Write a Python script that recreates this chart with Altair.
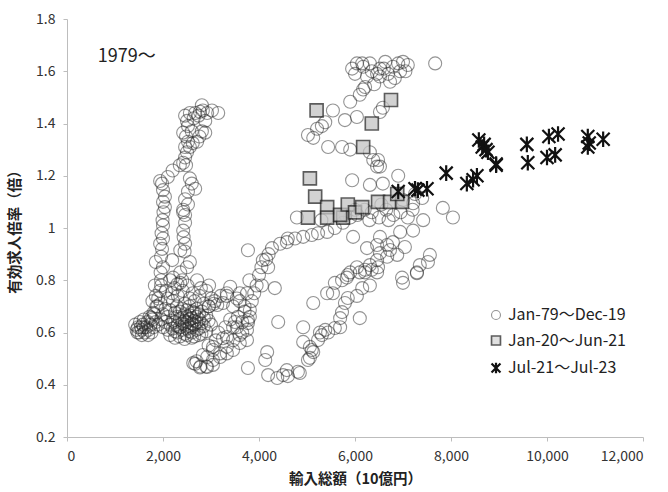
import altair as alt
import pandas as pd

# Series labels (legend order)
SERIES = ["Jan-79～Dec-19", "Jan-20～Jun-21", "Jul-21～Jul-23"]

# Monthly points: (imports, 10億円) / (jobs-to-applicants ratio)
# 1979-1985 and 1993-1995: the dense low-import cluster
cluster_79_95 = [
    (2150, 0.80), (2360, 0.79), (2710, 0.80),
    (1960, 0.78), (2240, 0.77), (2510, 0.78), (2790, 0.77), (2960, 0.78),
    (2060, 0.76), (2190, 0.75), (2410, 0.76), (2620, 0.75), (2900, 0.76),
    (1850, 0.74), (2100, 0.73), (2310, 0.74), (2560, 0.73), (2760, 0.74), (3010, 0.73),
    (1780, 0.72), (1950, 0.71), (2210, 0.72), (2450, 0.71), (2660, 0.72), (2850, 0.71), (3060, 0.71),
    (1880, 0.70), (2050, 0.69), (2290, 0.70), (2400, 0.69), (2550, 0.70), (2700, 0.69), (2950, 0.70),
    (2150, 0.685), (2350, 0.68), (2500, 0.685), (2610, 0.68), (2810, 0.68),
    (1800, 0.675), (2000, 0.67), (2250, 0.675), (2450, 0.67), (2560, 0.665), (2650, 0.675), (2750, 0.67), (2900, 0.665),
    (2100, 0.66), (2300, 0.66), (2400, 0.655), (2500, 0.66), (2600, 0.655), (2700, 0.66), (2850, 0.655),
    (1750, 0.655), (1960, 0.65), (2200, 0.645), (2350, 0.65), (2450, 0.645), (2550, 0.65), (2650, 0.645), (2750, 0.65), (2950, 0.645),
    (2050, 0.64), (2250, 0.64), (2400, 0.635), (2500, 0.64), (2600, 0.635), (2700, 0.64), (2800, 0.635),
    (1900, 0.63), (2150, 0.63), (2300, 0.625), (2450, 0.63), (2550, 0.625), (2650, 0.63), (2850, 0.625), (3000, 0.63),
    (2000, 0.62), (2200, 0.615), (2350, 0.62), (2500, 0.615), (2600, 0.62), (2750, 0.615),
    (2100, 0.61), (2250, 0.605), (2400, 0.61), (2550, 0.605), (2700, 0.61), (2900, 0.605),
    (2300, 0.60), (2450, 0.595), (2600, 0.60), (2800, 0.595),
    (2150, 0.59), (2350, 0.585), (2500, 0.59), (2650, 0.585), (2750, 0.59),
    (2250, 0.58), (2450, 0.575), (2600, 0.58),
]

# 1986-1987: strong yen, imports at their lowest
left_86_87 = [
    (1420, 0.63), (1450, 0.61), (1480, 0.62), (1500, 0.60), (1520, 0.64), (1540, 0.62),
    (1560, 0.61), (1580, 0.63), (1600, 0.65), (1620, 0.60), (1650, 0.62), (1680, 0.64),
    (1700, 0.61), (1720, 0.66), (1740, 0.63), (1760, 0.60), (1780, 0.65), (1800, 0.62),
    (1820, 0.67), (1850, 0.64), (1470, 0.60), (1560, 0.59), (1690, 0.59), (1600, 0.62),
]

# 1987-1991: bubble-era climb
rise_87_91 = [
    (1860, 0.70), (1900, 0.73), (1940, 0.76), (1830, 0.78), (1960, 0.80), (1950, 0.83),
    (1850, 0.87), (2000, 0.85), (1960, 0.89), (1940, 0.94), (1980, 0.92), (2000, 0.96),
    (1970, 0.98), (2000, 1.01), (1990, 1.03), (2010, 1.06), (2040, 1.08), (2000, 1.10),
    (2040, 1.12), (2000, 1.145), (1980, 1.17), (1940, 1.18), (2100, 1.195), (2200, 1.22),
    (2350, 1.24), (2420, 1.25), (2460, 1.27), (2500, 1.29), (2460, 1.31), (2560, 1.31),
    (2520, 1.33), (2420, 1.365), (2480, 1.35), (2520, 1.39), (2500, 1.41), (2460, 1.43),
    (2560, 1.44), (2670, 1.44), (2770, 1.445), (2830, 1.45), (2920, 1.44), (3020, 1.45),
    (3150, 1.44), (2810, 1.47), (2640, 1.42), (2740, 1.43),
]

# 1991-1993: post-bubble fall
fall_91_93 = [
    (2880, 1.41), (2810, 1.37), (2880, 1.365), (2710, 1.33), (2620, 1.325), (2760, 1.35),
    (2560, 1.19), (2670, 1.15), (2520, 1.14), (2460, 1.11), (2520, 1.09), (2420, 1.07),
    (2460, 1.05), (2420, 1.06), (2460, 1.02), (2420, 0.99), (2430, 0.965), (2460, 0.94),
    (2360, 0.915), (2450, 0.91), (2190, 0.877), (2500, 0.85), (2360, 0.83), (2210, 0.81),
    (2400, 0.80), (2300, 0.785), (2560, 0.87), (2600, 1.17), (2480, 1.24), (2600, 1.37),
]

# 1996-2003: loop through the late-1990s slump
loop_96_03 = [
    (2960, 0.70), (3080, 0.72), (3200, 0.74), (3330, 0.75), (3400, 0.775), (3540, 0.73),
    (3600, 0.75), (3750, 0.75), (3330, 0.74), (3250, 0.713), (3460, 0.70), (3130, 0.705),
    (3600, 0.72), (3700, 0.70), (3810, 0.686), (3770, 0.648), (3750, 0.61), (3650, 0.60),
    (3540, 0.62), (3460, 0.62), (3460, 0.57), (3330, 0.583), (3330, 0.545), (3250, 0.578),
    (3190, 0.52), (3040, 0.533), (3040, 0.545), (2920, 0.506), (2830, 0.514), (3040, 0.495),
    (3040, 0.476), (2920, 0.468), (2770, 0.466), (2670, 0.48), (2630, 0.483), (2780, 0.47),
    (2900, 0.47), (2700, 0.49), (3190, 0.506), (3330, 0.52), (3460, 0.533), (3600, 0.56),
    (3750, 0.571), (3600, 0.59), (3770, 0.636), (3810, 0.66), (3700, 0.68), (3560, 0.66),
    (3400, 0.65), (3500, 0.64), (3650, 0.64), (3300, 0.62), (3150, 0.60), (3100, 0.57),
    (2950, 0.55), (3770, 0.464),
]

# 2004-2007: recovery
trail_04_07 = [
    (3850, 0.72), (3900, 0.75), (3800, 0.80), (3950, 0.78), (4060, 0.78), (4000, 0.82),
    (4050, 0.85), (3770, 0.915), (4080, 0.877), (4190, 0.85), (4150, 0.88), (4270, 0.923),
    (4200, 0.90), (4440, 0.94), (4580, 0.946), (4750, 0.96), (4920, 0.966), (5100, 0.973),
    (5230, 0.98), (5420, 0.985), (5580, 1.00), (5750, 1.02), (5960, 0.966), (4600, 0.96),
    (4790, 1.04), (5300, 1.03), (5900, 1.04), (6050, 1.05), (6200, 1.07), (6350, 1.06),
    (6500, 1.04), (6650, 1.07), (6800, 1.05), (6950, 1.06), (7100, 1.04), (6000, 1.07),
    (6300, 1.03), (5800, 1.05), (6700, 1.03), (7200, 1.07), (6550, 1.09), (7000, 1.107),
    (7210, 1.095), (7250, 1.13), (7400, 1.115),
]

# 2008-2009: financial crisis
fall_08_09 = [
    (7420, 1.03), (7830, 1.077), (8040, 1.04), (7210, 0.99), (7560, 0.897), (7520, 0.87),
    (7350, 0.858), (7290, 0.83), (7000, 0.79), (7040, 0.927), (6880, 0.897), (6730, 0.916),
    (6790, 0.946), (6520, 0.966), (6460, 0.935), (6250, 0.923), (6670, 0.89), (6480, 0.85),
    (6350, 0.84), (6210, 0.83), (6460, 0.877), (6310, 0.858), (6100, 0.655), (5690, 0.62),
    (4850, 0.445), (4600, 0.433), (4500, 0.437), (4380, 0.426), (4190, 0.437), (4810, 0.45),
    (4580, 0.456), (5020, 0.495), (4170, 0.525), (4130, 0.495), (4400, 0.64), (4330, 0.77),
]

# 2010-2013: gradual recovery
rise_10_13 = [
    (4920, 0.62), (4920, 0.564), (5060, 0.545), (5060, 0.503), (5130, 0.525), (5100, 0.533),
    (5230, 0.571), (5310, 0.59), (5270, 0.60), (5440, 0.60), (5380, 0.61), (5580, 0.617),
    (5690, 0.655), (5730, 0.678), (5790, 0.713), (5850, 0.732), (6040, 0.74), (6150, 0.77),
    (6310, 0.78), (5130, 0.713), (5420, 0.75), (5540, 0.75), (5580, 0.79), (5730, 0.80),
    (5830, 0.81), (5850, 0.82), (5900, 0.83), (6040, 0.85), (6100, 0.83), (6210, 0.84),
    (6460, 0.83), (6520, 0.904), (6670, 0.935), (6940, 0.985), (7290, 0.827), (6980, 0.81),
]

# 2014-2019: tight labour market
upper_14_19 = [
    (5940, 1.183), (6310, 1.165), (6580, 1.17), (6900, 1.20), (6460, 1.235), (6480, 1.26),
    (6380, 1.26), (6310, 1.29), (6520, 1.235), (5900, 1.30), (5730, 1.31), (5440, 1.31),
    (5020, 1.356), (5130, 1.345), (5210, 1.38), (5310, 1.39), (5380, 1.405), (5540, 1.45),
    (5790, 1.413), (6040, 1.425), (5900, 1.483), (6100, 1.51), (6170, 1.53), (6210, 1.54),
    (6520, 1.444), (6580, 1.46), (6520, 1.58), (6730, 1.56), (6830, 1.574), (6940, 1.60),
    (5940, 1.61), (6040, 1.63), (6170, 1.617), (6310, 1.63), (6350, 1.60), (6460, 1.59),
    (6520, 1.61), (6630, 1.636), (6690, 1.59), (6790, 1.617), (6900, 1.63), (7000, 1.636),
    (7100, 1.624), (7670, 1.63), (6000, 1.59), (6250, 1.58), (6400, 1.55), (6600, 1.61),
    (7050, 1.60), (6150, 1.63),
]

# Jan-2020 to Jun-2021
covid_20_21 = [
    (6750, 1.49), (5200, 1.45), (6350, 1.40), (6170, 1.31), (5060, 1.19), (5170, 1.12),
    (5420, 1.08), (5020, 1.04), (5420, 1.04), (5750, 1.04), (5690, 1.05), (5850, 1.09),
    (6000, 1.06), (6150, 1.08), (6480, 1.10), (6730, 1.10), (6980, 1.10), (6880, 1.13),
]

# Jul-2021 to Jul-2023
recent_21_23 = [
    (6900, 1.14), (7250, 1.15), (7310, 1.145), (7500, 1.15), (7900, 1.21), (8330, 1.17),
    (8460, 1.185), (8540, 1.20), (8580, 1.337), (8690, 1.32), (8650, 1.31), (8730, 1.30),
    (8770, 1.29), (8940, 1.24), (8940, 1.245), (9580, 1.32), (9600, 1.25), (10000, 1.27),
    (10040, 1.35), (10170, 1.28), (10230, 1.36), (10850, 1.35), (10880, 1.325), (10850, 1.31),
    (11170, 1.34),
]

X_TICKS = [0, 2000, 4000, 6000, 8000, 10000, 12000]
Y_TICKS = [0.2, 0.4, 0.6, 0.8, 1.0, 1.2, 1.4, 1.6, 1.8]

groups = [
    (SERIES[0], cluster_79_95 + left_86_87 + rise_87_91 + fall_91_93 + loop_96_03
     + trail_04_07 + fall_08_09 + rise_10_13 + upper_14_19),
    (SERIES[1], covid_20_21),
    (SERIES[2], recent_21_23),
]
rows = []
for name, pts in groups:
    for x, y in pts:
        rows.append({"imports": x, "ratio": y, "period": name})
df = pd.DataFrame(rows)

FONT = "Noto Sans CJK JP"
ASTERISK = "M-1,-1L1,1M-1,1L1,-1M0,-1.2L0,1.2"

x_enc = alt.X(
    "imports:Q",
    scale=alt.Scale(domain=[0, 12000], nice=False),
    axis=alt.Axis(values=X_TICKS, format=",d", title="輸入総額（10億円）",
                  titleY=35, titleBaseline="top"),
)
y_enc = alt.Y(
    "ratio:Q",
    scale=alt.Scale(domain=[0.2, 1.8], nice=False, zero=False),
    axis=alt.Axis(values=Y_TICKS, format=".1~f", title="有効求人倍率（倍）",
                  titleX=-45, titleY=209),
)

points = alt.Chart(df).mark_point(size=169).encode(
    x=x_enc,
    y=y_enc,
    shape=alt.Shape("period:N", scale=alt.Scale(domain=SERIES, range=["circle", "square", ASTERISK]),
                    legend=alt.Legend(title=None)),
    fill=alt.Fill("period:N", scale=alt.Scale(domain=SERIES, range=["transparent", "#c4c4c4", "transparent"]),
                  legend=alt.Legend(title=None)),
    stroke=alt.Stroke("period:N", scale=alt.Scale(domain=SERIES, range=["#2a2a2a", "#262626", "#111111"]),
                      legend=alt.Legend(title=None)),
    strokeWidth=alt.StrokeWidth("period:N", scale=alt.Scale(domain=SERIES, range=[1.1, 2.2, 2.4]),
                                legend=alt.Legend(title=None)),
    opacity=alt.Opacity("period:N", scale=alt.Scale(domain=SERIES, range=[0.5, 1, 1]),
                        legend=alt.Legend(title=None)),
)

note = alt.Chart(pd.DataFrame({"t": ["1979～"]})).mark_text(
    align="left", baseline="middle", fontSize=18, font=FONT, color="#222222"
).encode(x=alt.datum(640), y=alt.datum(1.655), text="t:N")

chart = (
    alt.layer(points, note)
    .properties(
        width=576, height=418,
        autosize=alt.AutoSizeParams(type="none"),
        padding={"left": 67, "top": 19, "right": 25, "bottom": 55},
        background="white",
    )
    .configure_view(strokeWidth=0)
    .configure_axis(
        grid=False, domainColor="#bdbdbd", tickColor="#bdbdbd", tickSize=4,
        labelFont=FONT, labelFontSize=14, labelColor="#333333", labelPadding=8,
        titleFont=FONT, titleFontSize=14.5, titleFontWeight="bold", titleColor="#222222",
    )
    .configure_legend(
        orient="none", legendX=421, legendY=288, symbolSize=80,
        labelFont=FONT, labelFontSize=16, labelColor="#222222",
        rowPadding=9.5, labelOffset=4,
    )
)

chart.save("out.html", embed_options={"renderer": "svg", "actions": False})
